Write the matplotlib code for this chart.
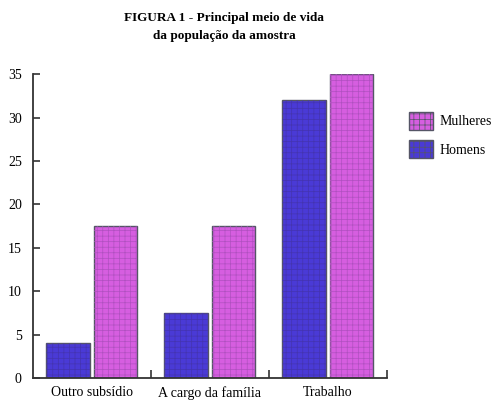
import numpy as np
import matplotlib
matplotlib.use("Agg")
import matplotlib.pyplot as plt
from matplotlib.patches import Patch

categorias = ["Outro subsídio", "A cargo da família", "Trabalho"]
homens = [4, 7.5, 32]
mulheres = [17.5, 17.5, 35]
yticks = [0, 5, 10, 15, 20, 25, 30, 35]

cor_h = "#4a3ad6"
cor_m = "#d65ee0"
plt.rcParams["font.family"] = ["Liberation Serif", "DejaVu Serif"]
plt.rcParams["hatch.linewidth"] = 0.5

fig = plt.figure(figsize=(4.98, 4.01), dpi=100)
ax = fig.add_axes([0.066, 0.057, 0.711, 0.758])

x = np.arange(len(categorias))
w = 0.37
# preenchimento + contorno
ax.bar(x - 0.2, homens, w, color=cor_h, edgecolor="#555566", linewidth=1.0)
ax.bar(x + 0.2, mulheres, w, color=cor_m, edgecolor="#555566", linewidth=1.0)
# textura pontilhada por cima
ax.bar(x - 0.2, homens, w, color="none", edgecolor="#4434b0", linewidth=0, hatch="+++")
ax.bar(x + 0.2, mulheres, w, color="none", edgecolor="#b050c0", linewidth=0, hatch="+++")

ax.set_xlim(-0.5, 2.5)
ax.set_ylim(0, 35)
ax.set_yticks(yticks)
ax.set_yticklabels([str(v) for v in yticks], fontsize=10)
ax.tick_params(axis="y", direction="in", length=5, width=1.2, color="#333333", pad=8)
ax.set_xticks(x)
ax.set_xticklabels(categorias, fontsize=10)
ax.tick_params(axis="x", length=0, pad=6)
# marcas entre categorias
ax.set_xticks([0.5, 1.5, 2.5], minor=True)
ax.tick_params(axis="x", which="minor", direction="in", length=6, width=1.2, color="#333333")

for s in ["top", "right"]:
    ax.spines[s].set_visible(False)
for s in ["left", "bottom"]:
    ax.spines[s].set_linewidth(1.3)
    ax.spines[s].set_color("#333333")

fig.text(0.45, 0.955, "FIGURA 1 - Principal meio de vida", ha="center", va="center",
         fontsize=9.5, fontweight="bold")
fig.text(0.45, 0.91, "da população da amostra", ha="center", va="center",
         fontsize=9.5, fontweight="bold")

handles = [Patch(facecolor=cor_m, edgecolor="#555566", hatch="+++", label="Mulheres"),
           Patch(facecolor=cor_h, edgecolor="#555566", hatch="+++", label="Homens")]
fig.legend(handles=handles, loc="upper left", bbox_to_anchor=(0.81, 0.735),
           frameon=False, fontsize=10, handlelength=1.7, handleheight=1.6,
           handletextpad=0.5, labelspacing=0.75, borderaxespad=0)

fig.savefig("out.png", dpi=100)
